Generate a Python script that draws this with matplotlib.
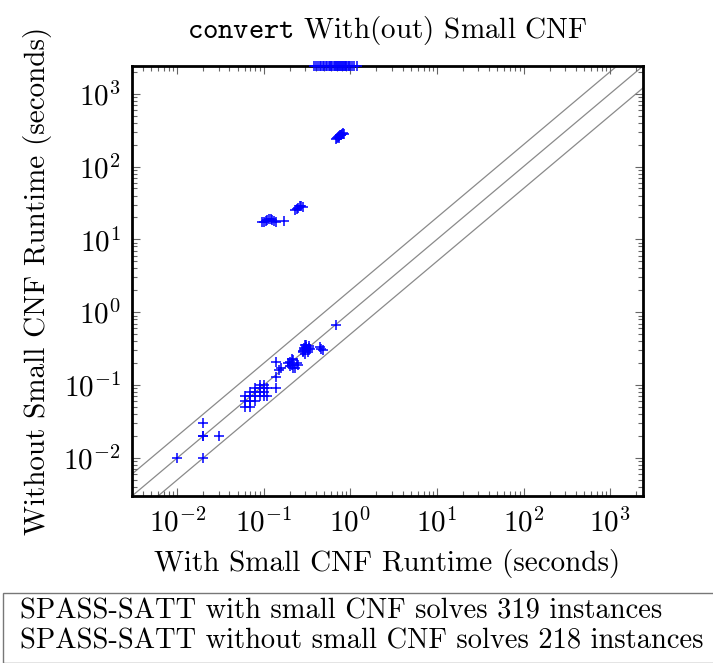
import matplotlib
matplotlib.use("Agg")
import matplotlib.pyplot as plt
from matplotlib.patches import Rectangle
from matplotlib.ticker import LogLocator, NullFormatter

plt.rcParams['font.family'] = ['cmr10', 'DejaVu Serif']
plt.rcParams['mathtext.fontset'] = 'cm'
plt.rcParams['axes.formatter.use_mathtext'] = True

TIMEOUT = 2400.0
AX_MIN, AX_MAX = 0.003, 2400.0

# With small CNF runtime (x) vs without small CNF runtime (y), seconds
with_small = [
    0.01, 0.02, 0.02, 0.02, 0.02, 0.03,
    0.06, 0.06, 0.06, 0.07, 0.07, 0.07, 0.07, 0.08, 0.08, 0.08, 0.08,
    0.09, 0.09, 0.09, 0.09, 0.10, 0.10, 0.10, 0.11, 0.10, 0.11,
    0.14, 0.14, 0.15, 0.16, 0.14,
    0.19, 0.20, 0.21, 0.22, 0.23, 0.24, 0.21, 0.22, 0.20, 0.25,
    0.28, 0.29, 0.30, 0.31, 0.32, 0.33, 0.30, 0.29, 0.31, 0.34, 0.28, 0.32, 0.30, 0.33,
    0.45, 0.48, 0.46,
    0.68,
    0.095, 0.10, 0.105, 0.11, 0.115, 0.12, 0.125, 0.13, 0.14, 0.17,
    0.23, 0.24, 0.25, 0.26, 0.27, 0.28,
    0.68, 0.70, 0.72, 0.74, 0.76, 0.78, 0.80, 0.82, 0.85, 0.73, 0.77,
]
without_small = [
    0.01, 0.01, 0.02, 0.02, 0.03, 0.02,
    0.05, 0.06, 0.07, 0.05, 0.06, 0.07, 0.08, 0.06, 0.07, 0.08, 0.09,
    0.07, 0.08, 0.09, 0.10, 0.08, 0.09, 0.10, 0.07, 0.07, 0.09,
    0.21, 0.09, 0.16, 0.17, 0.13,
    0.20, 0.21, 0.19, 0.22, 0.17, 0.20, 0.23, 0.17, 0.18, 0.19,
    0.28, 0.30, 0.31, 0.33, 0.30, 0.34, 0.27, 0.32, 0.36, 0.31, 0.29, 0.28, 0.35, 0.32,
    0.33, 0.30, 0.31,
    0.67,
    17.2, 17.5, 18.0, 18.5, 18.8, 19.0, 18.2, 17.8, 17.5, 17.6,
    25.0, 26.5, 27.0, 28.5, 29.0, 28.0,
    240, 248, 255, 262, 268, 275, 280, 285, 278, 250, 270,
]
timeout_x = [
    0.38, 0.40, 0.42, 0.44, 0.46, 0.48, 0.50, 0.52, 0.54, 0.56,
    0.58, 0.60, 0.62, 0.64, 0.66, 0.68, 0.70, 0.72, 0.74, 0.76,
    0.78, 0.80, 0.82, 0.84, 0.86, 0.88, 0.90, 0.93, 0.96, 1.00,
    1.05, 1.10, 1.18,
]
diag_factors = [0.5, 1.0, 2.0]

legend_lines = [
    "SPASS-SATT with small CNF solves 319 instances",
    "SPASS-SATT without small CNF solves 218 instances",
]

fig = plt.figure(figsize=(7.13, 6.63), dpi=100)
ax = fig.add_axes([132/713, 1-496/663, (643-132)/713, (496-66)/663])

for f in diag_factors:
    ax.plot([AX_MIN, AX_MAX], [AX_MIN*f, AX_MAX*f], color='#8a8a8a', lw=0.9, zorder=1)

mk = dict(marker='+', linestyle='none', color='#0000ff', markersize=7, mew=1.1, zorder=3, clip_on=False)
ax.plot(with_small, without_small, **mk)
ax.plot(timeout_x, [TIMEOUT]*len(timeout_x), **mk)

ax.set_xscale('log')
ax.set_yscale('log')
ax.set_xlim(AX_MIN, AX_MAX)
ax.set_ylim(AX_MIN, AX_MAX)
for axis in (ax.xaxis, ax.yaxis):
    axis.set_major_locator(LogLocator(base=10, numticks=30))
    axis.set_minor_locator(LogLocator(base=10, subs=range(2, 10), numticks=30))
    axis.set_minor_formatter(NullFormatter())

ax.tick_params(which='both', direction='in', top=True, right=True, color='#666666', width=0.8)
ax.tick_params(which='major', length=6, labelsize=21)
ax.tick_params(axis='x', which='major', pad=9)
ax.tick_params(axis='y', which='major', pad=8)
ax.tick_params(which='minor', length=3.5)
for s in ax.spines.values():
    s.set_linewidth(2.0)

ax.set_xlabel("With Small CNF Runtime (seconds)", fontsize=21, labelpad=8)
ax.set_ylabel("Without Small CNF Runtime (seconds)", fontsize=21, labelpad=8)
ax.set_title(r"$\mathtt{convert}$ With(out) Small CNF", fontsize=21, pad=20)

rect = Rectangle((3/713, 0), 1.0, 1-593/663, transform=fig.transFigure,
                 fill=False, edgecolor='#777777', lw=1.0, clip_on=False)
fig.patches.append(rect)
fig.text(20/713, 1-611/663, legend_lines[0], fontsize=20.5, va='center', ha='left')
fig.text(20/713, 1-641/663, legend_lines[1], fontsize=20.5, va='center', ha='left')

fig.savefig("out.png", dpi=100)
